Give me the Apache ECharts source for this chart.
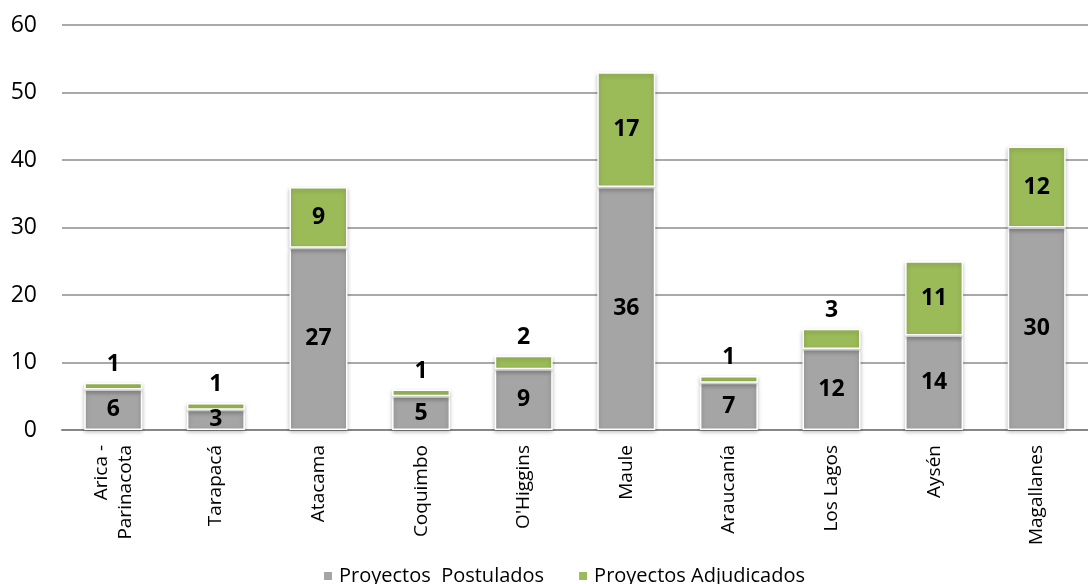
<!DOCTYPE html>
<html><head><meta charset="utf-8">
<script src="https://cdn.jsdelivr.net/npm/echarts@6/dist/echarts.min.js"></script>
<style>html,body{margin:0;padding:0;background:#fff}#c{width:1088px;height:584px}</style>
</head><body><div id="c"></div>
<script>
const categories = ['Arica -\nParinacota','Tarapacá','Atacama','Coquimbo',"O'Higgins",'Maule','Araucanía','Los Lagos','Aysén','Magallanes'];
const postulados = [6,3,27,5,9,36,7,12,14,30];
const adjudicados = [1,1,9,1,2,17,1,3,11,12];
const yTicks = [0,10,20,30,40,50,60];
const seriesNames = ['Proyectos  Postulados','Proyectos Adjudicados'];

const FONT = '"Open Sans", sans-serif';
const chart = echarts.init(document.getElementById('c'), null, {renderer:'canvas'});
const lbl = {show:true, color:'#000', fontFamily:FONT, fontWeight:'bold', fontSize:23};
chart.setOption({
  animation:false,
  grid:{left:62, right:-14, top:25, bottom:154, containLabel:false},
  legend:{top:561, left:317, itemWidth:10, itemHeight:10, itemGap:33, icon:'rect',
    textStyle:{fontFamily:FONT, fontSize:20, color:'#000', padding:[0,0,0,1]},
    data:seriesNames},
  xAxis:{type:'category', data:categories,
    axisLine:{lineStyle:{color:'#868686', width:2}}, axisTick:{show:false},
    axisLabel:{rotate:90, interval:0, fontFamily:FONT, fontSize:19, color:'#000', margin:15, lineHeight:24, align:'right', verticalAlign:'middle'}},
  yAxis:{type:'value', min:yTicks[0], max:yTicks[yTicks.length-1], interval:10,
    axisLine:{show:false}, axisTick:{show:false},
    splitLine:{lineStyle:{color:'#8c8c8c', width:1.5}},
    axisLabel:{fontFamily:FONT, fontSize:23, color:'#000', margin:25}},
  series:[
    {name:seriesNames[0], type:'bar', stack:'a', barWidth:58, data:postulados,
     itemStyle:{color:'#a5a5a5', borderColor:'#fff', borderWidth:1.5, shadowColor:'rgba(0,0,0,0.25)', shadowBlur:4, shadowOffsetY:2},
     label:Object.assign({position:'inside'}, lbl)},
    {name:seriesNames[1], type:'bar', stack:'a', barWidth:58,
     data:adjudicados.map(v => ({value:v, label: v <= 3 ? {position:'top', distance:7} : {position:'inside'}})),
     itemStyle:{color:'#9bbb59', borderColor:'#fff', borderWidth:1.5, shadowColor:'rgba(0,0,0,0.25)', shadowBlur:4, shadowOffsetY:2},
     label:Object.assign({position:'inside'}, lbl)}
  ]
});
</script></body></html>
